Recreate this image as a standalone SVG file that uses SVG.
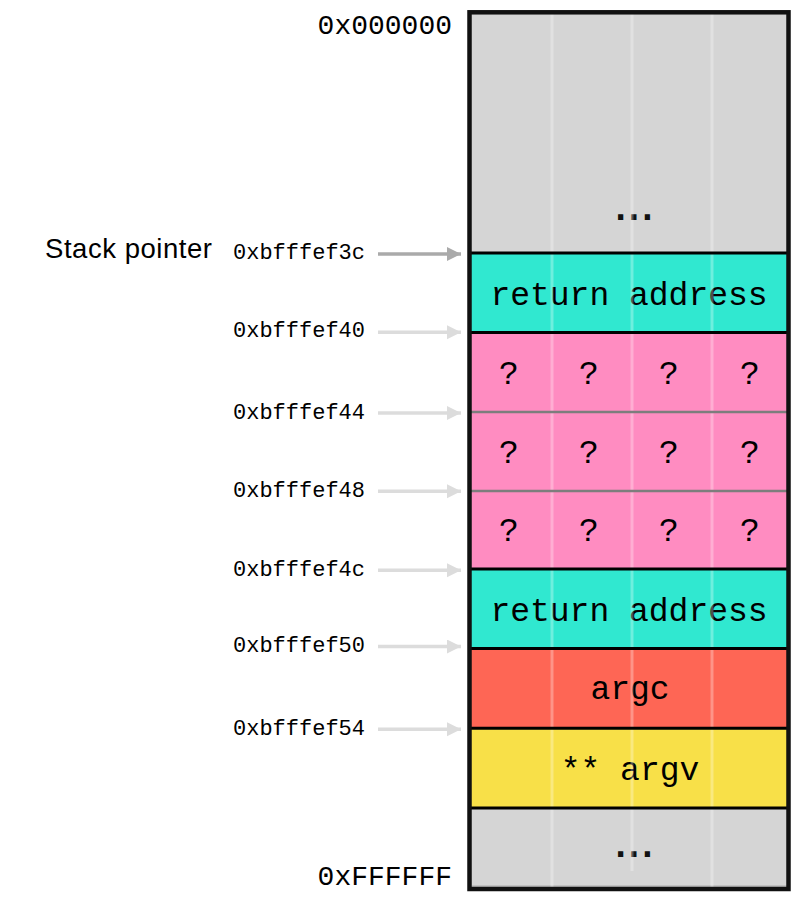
<svg xmlns="http://www.w3.org/2000/svg" width="800" height="900" viewBox="0 0 800 900">
<defs>
<style>
.mono{font-family:"Liberation Mono","Courier New",monospace;fill:#000}
.big{font-size:28px}
.addr{font-size:22px}
.cell{font-size:33px;text-anchor:middle}
.dots{font-family:"DejaVu Sans Mono","Liberation Mono",monospace;font-size:32px;font-weight:bold;letter-spacing:-6px;text-anchor:middle;fill:#111}
.sep{stroke:#000;stroke-width:3}
.sepg{stroke:#7d7d7d;stroke-width:2.5}
.vline{stroke:#ffffff;stroke-opacity:0.3;stroke-width:3}
.arr{stroke-width:3.5;fill:none}
</style>
<marker id="ahDark" markerUnits="userSpaceOnUse" markerWidth="16" markerHeight="16" refX="14" refY="7" orient="auto">
<path d="M0,0 L14,7 L0,14 Z" fill="#aaaaaa"/>
</marker>
<marker id="ahLight" markerUnits="userSpaceOnUse" markerWidth="16" markerHeight="16" refX="14" refY="7" orient="auto">
<path d="M0,0 L14,7 L0,14 Z" fill="#dcdcdc"/>
</marker>
</defs>
<rect width="800" height="900" fill="#ffffff"/>

<g id="stack">
<g id="top-gray"><rect x="470" y="12" width="319" height="241" fill="#d5d5d5"/><text class="dots" x="631" y="220">...</text></g>
<g id="ret1"><rect x="470" y="253" width="319" height="79.5" fill="#30e8d0"/><text class="mono cell" x="629" y="305">return address</text></g>
<g id="buf1"><rect x="470" y="332.5" width="319" height="79.5" fill="#ff8cc1"/>
<text class="mono cell" x="509" y="384">?</text><text class="mono cell" x="589" y="384">?</text><text class="mono cell" x="669" y="384">?</text><text class="mono cell" x="750" y="384">?</text></g>
<g id="buf2"><rect x="470" y="412" width="319" height="79" fill="#ff8cc1"/>
<text class="mono cell" x="509" y="463">?</text><text class="mono cell" x="589" y="463">?</text><text class="mono cell" x="669" y="463">?</text><text class="mono cell" x="750" y="463">?</text></g>
<g id="buf3"><rect x="470" y="491" width="319" height="78" fill="#ff8cc1"/>
<text class="mono cell" x="509" y="541">?</text><text class="mono cell" x="589" y="541">?</text><text class="mono cell" x="669" y="541">?</text><text class="mono cell" x="750" y="541">?</text></g>
<g id="ret2"><rect x="470" y="569" width="319" height="79.5" fill="#30e8d0"/><text class="mono cell" x="629" y="621">return address</text></g>
<g id="argc"><rect x="470" y="648.5" width="319" height="79.8" fill="#fe6655"/><text class="mono cell" x="630" y="699">argc</text></g>
<g id="argv"><rect x="470" y="728.3" width="319" height="79.7" fill="#f8e048"/><text class="mono cell" x="630" y="780">** argv</text></g>
<g id="bottom-gray"><rect x="470" y="808" width="319" height="81" fill="#d5d5d5"/><text class="dots" x="631" y="857">...</text></g>
<line x1="472" y1="886" x2="787" y2="886" stroke="#b8b8b8" stroke-width="1.5"/>
<line class="vline" x1="552" y1="14" x2="552" y2="887"/>
<line class="vline" x1="632" y1="14" x2="632" y2="871"/>
<line class="vline" x1="712" y1="14" x2="712" y2="887"/>
<line class="sep" x1="470" y1="253" x2="789" y2="253"/>
<line class="sep" x1="470" y1="332.5" x2="789" y2="332.5"/>
<line class="sepg" x1="470" y1="412" x2="789" y2="412"/>
<line class="sepg" x1="470" y1="491" x2="789" y2="491"/>
<line class="sep" x1="470" y1="569" x2="789" y2="569"/>
<line class="sep" x1="470" y1="648.5" x2="789" y2="648.5"/>
<line class="sep" x1="470" y1="728.3" x2="789" y2="728.3"/>
<line class="sep" x1="470" y1="808" x2="789" y2="808"/>
<rect x="469.5" y="12.3" width="319" height="876.7" fill="none" stroke="#111" stroke-width="4.5"/>
</g>

<g id="labels">
<text class="mono big" x="452" y="34" text-anchor="end">0x000000</text>
<text class="mono big" x="452" y="885" text-anchor="end">0xFFFFFF</text>
<text x="45" y="258" font-family="'Liberation Sans',Arial,sans-serif" font-size="27.5" textLength="167" fill="#000">Stack pointer</text>
<text class="mono addr" x="233" y="259">0xbfffef3c</text>
<text class="mono addr" x="233" y="337">0xbfffef40</text>
<text class="mono addr" x="233" y="419">0xbfffef44</text>
<text class="mono addr" x="233" y="497">0xbfffef48</text>
<text class="mono addr" x="233" y="576">0xbfffef4c</text>
<text class="mono addr" x="233" y="652">0xbfffef50</text>
<text class="mono addr" x="233" y="735">0xbfffef54</text>
</g>

<g id="connectors">
<line class="arr" x1="378" y1="254" x2="461" y2="254" stroke="#aaaaaa" marker-end="url(#ahDark)"/>
<line class="arr" x1="378" y1="332.3" x2="461" y2="332.3" stroke="#dcdcdc" marker-end="url(#ahLight)"/>
<line class="arr" x1="378" y1="413" x2="461" y2="413" stroke="#dcdcdc" marker-end="url(#ahLight)"/>
<line class="arr" x1="378" y1="491.3" x2="461" y2="491.3" stroke="#dcdcdc" marker-end="url(#ahLight)"/>
<line class="arr" x1="378" y1="570.3" x2="461" y2="570.3" stroke="#dcdcdc" marker-end="url(#ahLight)"/>
<line class="arr" x1="378" y1="646.5" x2="461" y2="646.5" stroke="#dcdcdc" marker-end="url(#ahLight)"/>
<line class="arr" x1="378" y1="729.3" x2="461" y2="729.3" stroke="#dcdcdc" marker-end="url(#ahLight)"/>
</g>
</svg>
